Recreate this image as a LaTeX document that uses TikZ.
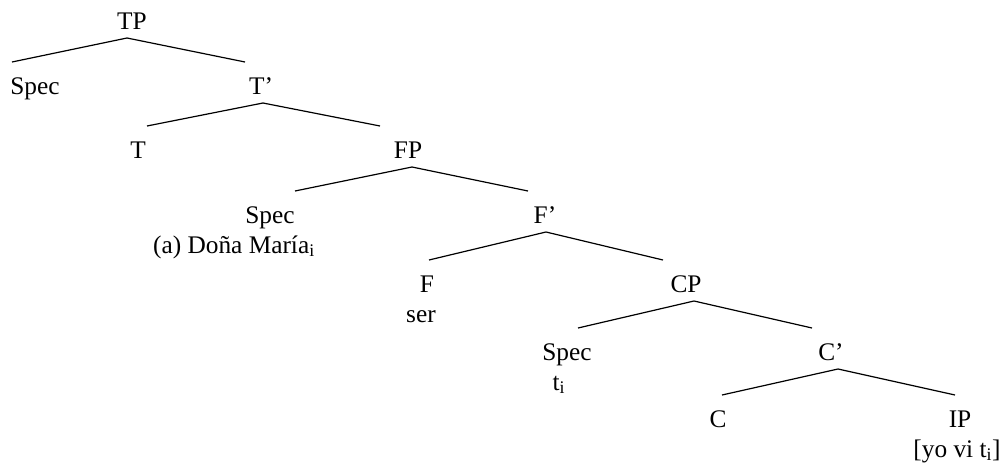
\documentclass[tikz,border=0pt]{standalone}
\usepackage{fontspec}
\setmainfont{Liberation Serif}
\usetikzlibrary{calc}

\begin{document}
\begin{tikzpicture}[x=0.75pt,y=-0.75pt,
    every node/.style={anchor=base,inner sep=0pt,font=\fontsize{19}{22}\selectfont},
    branch/.style={line width=0.9pt}]
  \useasboundingbox (0,0) rectangle (1002,464);
  % labels, one row per level
  \node (tp) at (132,29) {TP};
  \node (specT) at (35,94) {Spec};
  \node (tbar) at (261,94) {T’};
  \node (t) at (138,158) {T};
  \node (fp) at (408,158) {FP};
  \node (specF) at (270,223) {Spec};
  \node (dona) at (234,253) {(a) Doña María\textsubscript{i}};
  \node (fbar) at (545,223) {F’};
  \node (f) at (427,292) {F};
  \node (ser) at (421,322) {ser};
  \node (cp) at (686,292) {CP};
  \node (specC) at (567,360) {Spec};
  \node (trace) at (559,390) {t\textsubscript{i}};
  \node (cbar) at (831,360) {C’};
  \node (c) at (718,427) {C};
  \node (ip) at (960,427) {IP};
  \node (yovi) at (957,457) {[yo vi t\textsubscript{i}]};
  % branches
  \draw[branch] ($(specT.base)+(-23,-32)$) -- ($(tp.base)+(-5,9)$) -- ($(tbar.base)+(-16,-32)$);
  \draw[branch] ($(t.base)+(9,-32)$) -- ($(tbar.base)+(2,9)$) -- ($(fp.base)+(-28,-32)$);
  \draw[branch] ($(specF.base)+(25,-32)$) -- ($(fp.base)+(4,9)$) -- ($(fbar.base)+(-17,-32)$);
  \draw[branch] ($(f.base)+(2,-32)$) -- ($(fbar.base)+(1,9)$) -- ($(cp.base)+(-23,-32)$);
  \draw[branch] ($(specC.base)+(11,-32)$) -- ($(cp.base)+(8,9)$) -- ($(cbar.base)+(-19,-32)$);
  \draw[branch] ($(c.base)+(4,-32)$) -- ($(cbar.base)+(7,9)$) -- ($(ip.base)+(-5,-32)$);
\end{tikzpicture}
\end{document}
